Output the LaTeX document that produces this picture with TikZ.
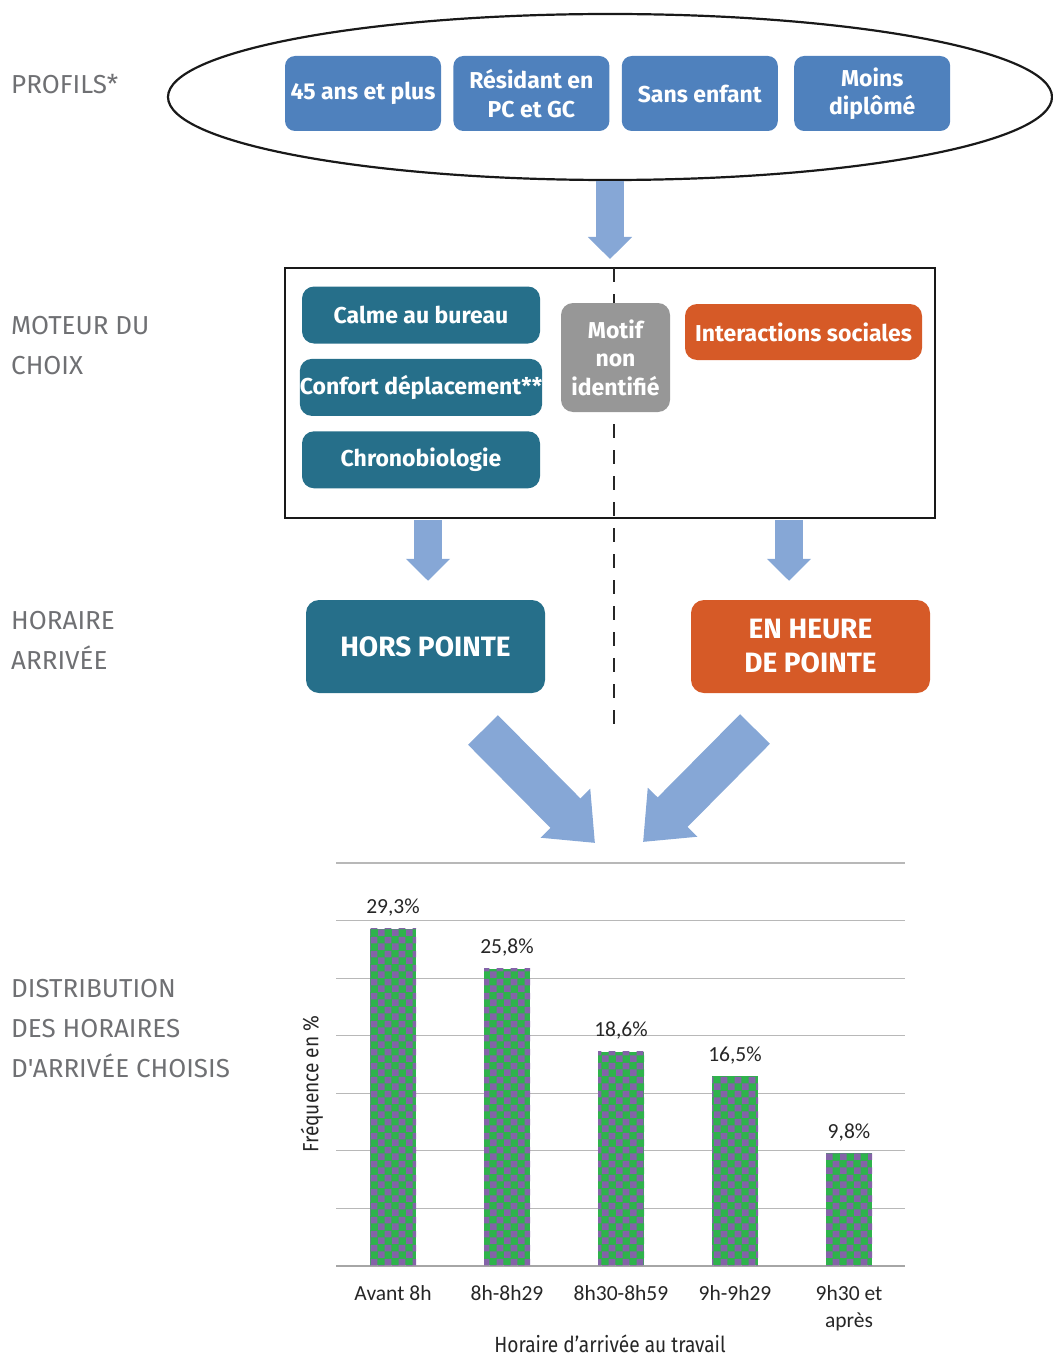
\documentclass[tikz,border=0pt]{standalone}
\usepackage{fontspec}
\setmainfont{Fira Sans}
\newfontfamily\chartfont{Carlito}
\newfontfamily\lblfont{Fira Sans}[Ligatures=TeXOff]
\newfontfamily\axfont{Fira Sans}[FakeStretch=0.87]
\usetikzlibrary{positioning,shapes.geometric,arrows.meta,patterns.meta}
\definecolor{ProfBlue}{HTML}{4F81BD}
\definecolor{FlowBlue}{HTML}{86A7D6}
\definecolor{MotTeal}{HTML}{266F8A}
\definecolor{MotOrange}{HTML}{D65A27}
\definecolor{MotGray}{HTML}{979797}
\definecolor{LabelGray}{HTML}{6F7073}
\definecolor{GridGray}{HTML}{A6A6A6}
\definecolor{BarGreen}{HTML}{2EB34B}
\definecolor{BarPurple}{HTML}{8463A8}
\tikzdeclarepattern{name=barcheck,type=uncolored,
  bounding box={(0pt,0pt) and (14pt,14pt)},tile size={(14pt,14pt)},
  code={\fill (0pt,0pt) rectangle (7pt,7pt); \fill (7pt,7pt) rectangle (14pt,14pt);}}

\begin{document}
\begin{tikzpicture}[x=1pt,y=-1pt,>=latex,node distance=12pt and 12pt]
\tikzset{prof/.style={fill=ProfBlue,rounded corners=10pt,minimum width=156pt,minimum height=75pt,inner sep=0pt,text=white,align=center,font=\fontsize{23}{28.5}\selectfont\bfseries},
         mot/.style={fill=MotTeal,rounded corners=12pt,minimum width=238pt,minimum height=57pt,inner sep=0pt,text=white,align=center,font=\fontsize{23}{28.5}\selectfont\bfseries},
         horaire/.style={rounded corners=13pt,minimum width=239pt,minimum height=93pt,inner sep=0pt,text=white,align=center,font=\fontsize{28}{34}\selectfont\bfseries},
         lbl/.style={anchor=west,inner sep=0pt,align=left,text=LabelGray,font=\lblfont\fontsize{26}{40}\selectfont},
         flow/.style={draw=FlowBlue,line width=28pt,-{Triangle[width=43pt,length=22pt]}},
         bigflow/.style={draw=FlowBlue,line width=42pt,-{Triangle[width=67pt,length=42pt]}},
         sep/.style={draw=black!85,line width=2.5pt,dash pattern=on 14pt off 12pt},
         grid/.style={draw=GridGray!80,line width=1.2pt},
         axis/.style={draw=GridGray,line width=1.6pt},
         bar/.style={preaction={fill=BarGreen},pattern=barcheck,pattern color=BarPurple},
         val/.style={anchor=base,inner sep=0pt,text=black!85,font=\chartfont\fontsize{21.5}{27}\selectfont},
         cat/.style={anchor=north,inner sep=0pt,align=center,text=black!85,font=\chartfont\fontsize{21.5}{27}\selectfont},
         axtitle/.style={inner sep=0pt,text=black!85,font=\axfont\fontsize{22}{26}\selectfont}}
\useasboundingbox (0,0) rectangle (1052,1356);

% left column labels
\node[lbl] (lProfils) at (11,84) {PROFILS*};
\node[lbl] (lMoteur) at (11,346) {MOTEUR DU\\CHOIX};
\node[lbl] (lHoraire) at (11,640) {HORAIRE\\ARRIVÉE};
\node[lbl] (lDistrib) at (11,1029) {DISTRIBUTION\\DES HORAIRES\\D'ARRIVÉE CHOISIS};

% profils
\node[draw=black!90,line width=2.2pt,ellipse,minimum width=884pt,minimum height=166pt] (profils) at (610,97) {};
\node[prof] (pAge) at (363,93.5) {45 ans et plus};
\node[prof,right=12pt of pAge] (pResid) {Résidant en\\PC et GC};
\node[prof,right=12pt of pResid] (pSans) {Sans enfant};
\node[prof,right=16pt of pSans] (pMoins) {Moins\\diplômé};

% moteur du choix
\node[draw=black!90,line width=2pt,minimum width=650pt,minimum height=250pt,inner sep=0pt] (moteur) at (610,393) {};
\coordinate (sepTop) at (614,268);
\coordinate (sepBot) at (614,731);
\draw[sep] (sepTop) -- (sepBot);
\node[mot] (mCalme) at (421,315) {Calme au bureau};
\node[mot,below=15pt of mCalme] (mConfort) {Confort déplacement**};
\node[mot,below=15pt of mConfort] (mChrono) {Chronobiologie};
\node[mot,fill=MotGray,minimum width=109pt,minimum height=109pt] (mMotif) at (615.5,357.5) {Motif\\non\\identifié};
\node[mot,fill=MotOrange,minimum width=237pt,minimum height=56pt] (mInter) at (803.5,332) {Interactions sociales};

% horaire
\node[horaire,fill=MotTeal] (hors) at (425.5,646.5) {HORS POINTE};
\node[horaire,fill=MotOrange] (pointe) at (810.5,646.5) {EN HEURE\\DE POINTE};

\draw[flow,shorten >=8pt] (profils.south) -- (moteur.north);
\draw[flow,shorten <=1pt,shorten >=19pt] ([xshift=2.5pt]hors.north |- moteur.south) -- ([xshift=2.5pt]hors.north);
\draw[flow,shorten <=1pt,shorten >=19pt] ([xshift=-21.5pt]pointe.north |- moteur.south) -- ([xshift=-21.5pt]pointe.north);

\coordinate (horsOut) at (483,730);
\coordinate (chartInL) at (595,843);
\coordinate (pointeOut) at (755,729);
\coordinate (chartInR) at (643,842);
\draw[bigflow] (horsOut) -- (chartInL);
\draw[bigflow] (pointeOut) -- (chartInR);

% distribution
\foreach \k in {0,...,6}
  \draw[grid] (336,{863+57.57*\k}) -- (905,{863+57.57*\k});
\draw[axis] (336,1266) -- (905,1266);
\foreach \pct/\lab/\cat [count=\i] in {29.3/{29,3\%}/{Avant 8h},25.8/{25,8\%}/{8h-8h29},18.6/{18,6\%}/{8h30-8h59},16.5/{16,5\%}/{9h-9h29},9.8/{9,8\%}/{9h30 et\\après}}{
  \pgfmathsetmacro\xc{393+114*(\i-1)}
  \pgfmathsetmacro\yt{1266-11.514*\pct}
  \path[bar] (\xc-23,\yt) rectangle (\xc+23,1265);
  \node[val] (val\i) at (\xc,\yt-15) {\lab};
  \node[cat] (cat\i) at (\xc,1285) {\cat};
}
\node[axtitle] (xTitle) at (610,1344) {Horaire d’arrivée au travail};
\node[axtitle,rotate=90] (yTitle) at (312,1084) {Fréquence en \%};
\end{tikzpicture}
\end{document}
